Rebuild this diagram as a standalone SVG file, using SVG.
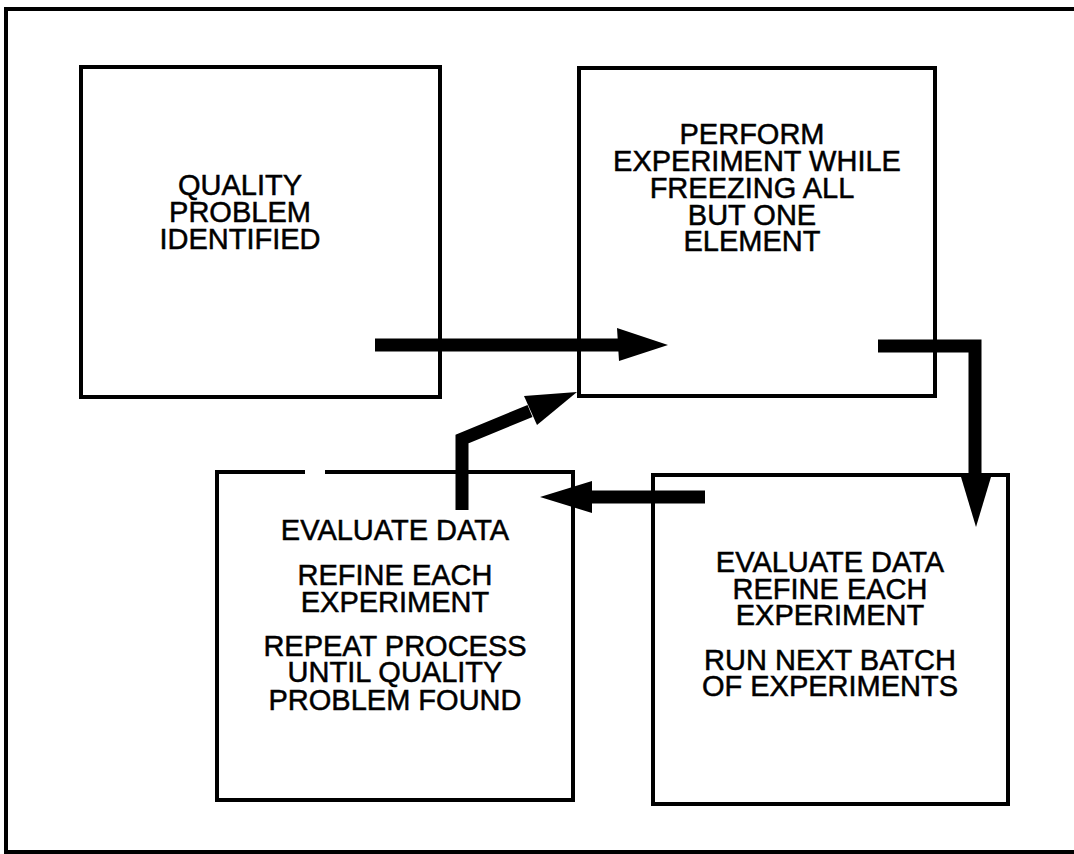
<svg xmlns="http://www.w3.org/2000/svg" width="1074" height="854" viewBox="0 0 1074 854">
<style>
.box{fill:none;stroke:#000;stroke-width:4}
.frame{fill:none;stroke:#000;stroke-width:4}
.t{font-family:"Liberation Sans",Arial,Helvetica,sans-serif;font-size:29px;fill:#000;stroke:#000;stroke-width:0.5;text-anchor:middle}
.shaft{fill:none;stroke:#000;stroke-width:13;stroke-linejoin:miter}
.head{fill:#000}
</style>
<rect x="0" y="0" width="1074" height="854" fill="#fff"/>
<path class="frame" d="M1074,9 L6,9 L6,852 L1074,852"/>
<g id="node-quality-problem">
<rect class="box" x="81" y="67" width="359" height="330"/>
<text class="t" x="240" y="195">QUALITY</text>
<text class="t" x="240" y="222">PROBLEM</text>
<text class="t" x="240" y="249">IDENTIFIED</text>
</g>
<g id="node-perform-experiment">
<rect class="box" x="579" y="68" width="356" height="328"/>
<text class="t" x="752" y="144">PERFORM</text>
<text class="t" x="757" y="171">EXPERIMENT WHILE</text>
<text class="t" x="752" y="198">FREEZING ALL</text>
<text class="t" x="752" y="225">BUT ONE</text>
<text class="t" x="752" y="251">ELEMENT</text>
</g>
<g id="node-evaluate-repeat">
<path class="box" d="M305,472 L217,472 L217,800 L573,800 L573,472 L325,472"/>
<text class="t" x="395" y="540">EVALUATE DATA</text>
<text class="t" x="395" y="585">REFINE EACH</text>
<text class="t" x="395" y="612">EXPERIMENT</text>
<text class="t" x="395" y="656">REPEAT PROCESS</text>
<text class="t" x="395" y="682">UNTIL QUALITY</text>
<text class="t" x="395" y="710">PROBLEM FOUND</text>
</g>
<g id="node-evaluate-batch">
<rect class="box" x="653" y="475" width="355" height="329"/>
<text class="t" x="830" y="572">EVALUATE DATA</text>
<text class="t" x="830" y="599">REFINE EACH</text>
<text class="t" x="830" y="625">EXPERIMENT</text>
<text class="t" x="830" y="670">RUN NEXT BATCH</text>
<text class="t" x="830" y="696">OF EXPERIMENTS</text>
</g>
<g id="connectors">
<path class="shaft" d="M375,345 L622,345"/>
<polygon class="head" points="617,328 668,345 619,361"/>
<path class="shaft" d="M878,346 L975,346 L975,480"/>
<polygon class="head" points="961,477 991,477 976,527"/>
<path class="shaft" d="M705,497 L588,497"/>
<polygon class="head" points="592,481 540,497 592,513"/>
<path class="shaft" d="M462,510 L462,439 L530,411"/>
<polygon class="head" points="524,396 577,392 537,425"/>
</g>
</svg>
